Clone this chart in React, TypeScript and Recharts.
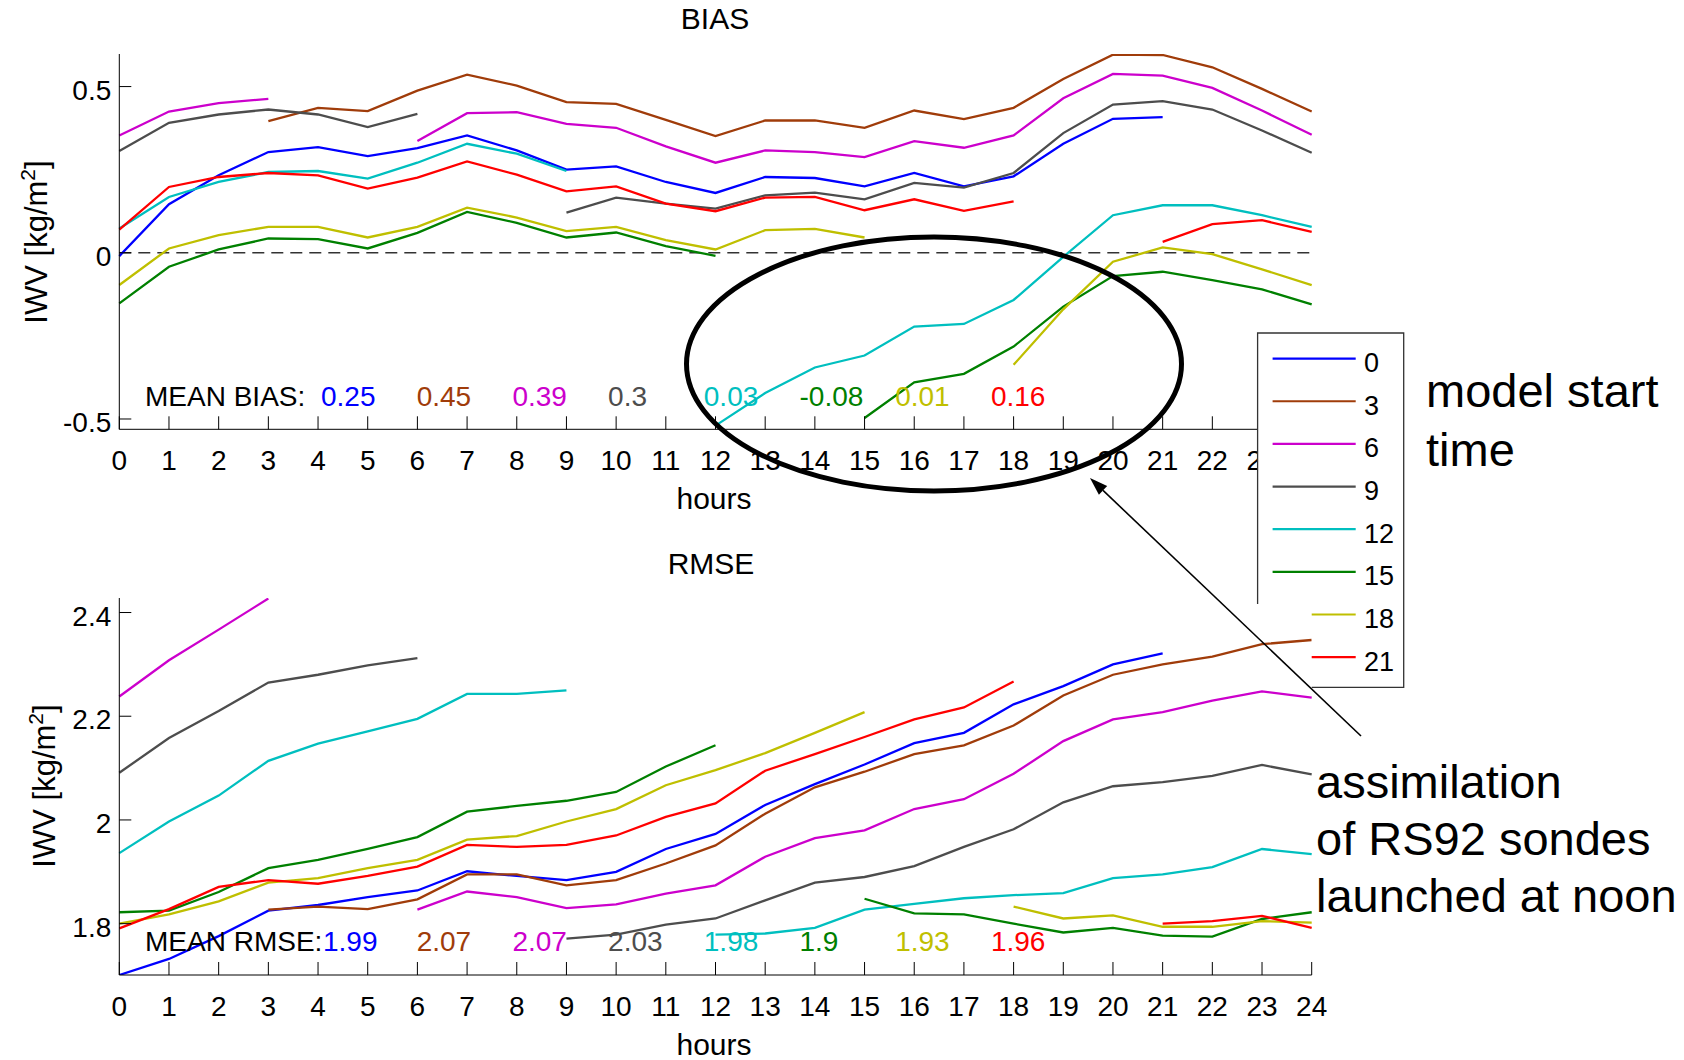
import React from 'react';
import { LineChart, Line, XAxis, YAxis, ReferenceLine } from 'recharts';

// ---------- data ----------
const HOURS = [0, 1, 2, 3, 4, 5, 6, 7, 8, 9, 10, 11, 12, 13, 14, 15, 16, 17, 18, 19, 20, 21, 22, 23, 24];
const START_TIMES = ['0', '3', '6', '9', '12', '15', '18', '21'];
const COLORS = ['#0000FF', '#A03C0A', '#CC00CC', '#4D4D4D', '#00BFBF', '#008000', '#BFBF00', '#FF0000'];

const BIAS_0 = [-0.01, 0.146, 0.233, 0.303, 0.318, 0.291, 0.315, 0.353, 0.308, 0.25, 0.26, 0.213, 0.18, 0.228, 0.225, 0.2, 0.24, 0.2, 0.23, 0.328, 0.403, 0.408, null, null, null];
const BIAS_3 = [null, null, null, 0.396, 0.436, 0.426, 0.488, 0.536, 0.503, 0.453, 0.448, 0.4, 0.351, 0.398, 0.398, 0.376, 0.428, 0.402, 0.436, 0.523, 0.596, 0.595, 0.558, 0.493, 0.425];
const BIAS_6 = [0.353, 0.425, 0.45, 0.463, null, null, 0.336, 0.42, 0.423, 0.388, 0.376, 0.32, 0.271, 0.308, 0.303, 0.288, 0.336, 0.316, 0.353, 0.465, 0.538, 0.533, 0.496, 0.428, 0.355];
const BIAS_9 = [0.306, 0.391, 0.416, 0.431, 0.416, 0.378, 0.418, null, null, 0.121, 0.166, 0.148, 0.133, 0.173, 0.181, 0.161, 0.21, 0.196, 0.24, 0.36, 0.446, 0.456, 0.431, 0.368, 0.301];
const BIAS_12 = [0.073, 0.168, 0.213, 0.243, 0.246, 0.223, 0.271, 0.328, 0.298, 0.246, null, null, -0.52, -0.422, -0.345, -0.309, -0.222, -0.214, -0.142, -0.012, 0.113, 0.143, 0.143, 0.113, 0.078];
const BIAS_15 = [-0.152, -0.042, 0.01, 0.043, 0.041, 0.013, 0.06, 0.123, 0.09, 0.046, 0.061, 0.02, -0.009, null, null, -0.497, -0.39, -0.364, -0.282, -0.162, -0.07, -0.057, -0.082, -0.11, -0.155];
const BIAS_18 = [-0.097, 0.013, 0.053, 0.078, 0.078, 0.046, 0.078, 0.136, 0.106, 0.065, 0.078, 0.038, 0.01, 0.068, 0.072, 0.046, null, null, -0.337, -0.17, -0.027, 0.016, -0.004, -0.05, -0.097];
const BIAS_21 = [0.07, 0.198, 0.228, 0.24, 0.233, 0.193, 0.226, 0.275, 0.235, 0.185, 0.2, 0.148, 0.125, 0.166, 0.168, 0.128, 0.161, 0.126, 0.155, null, null, 0.033, 0.086, 0.098, 0.063];

const RMSE_0 = [1.701, 1.732, 1.776, 1.825, 1.836, 1.851, 1.864, 1.901, 1.892, 1.884, 1.9, 1.944, 1.973, 2.029, 2.069, 2.107, 2.148, 2.168, 2.223, 2.258, 2.3, 2.321, null, null, null];
const RMSE_3 = [null, null, null, 1.827, 1.833, 1.828, 1.847, 1.895, 1.895, 1.874, 1.884, 1.916, 1.951, 2.012, 2.063, 2.093, 2.127, 2.144, 2.182, 2.24, 2.28, 2.3, 2.315, 2.339, 2.347];
const RMSE_6 = [2.238, 2.308, 2.367, 2.427, null, null, 1.827, 1.862, 1.851, 1.83, 1.837, 1.858, 1.874, 1.929, 1.965, 1.98, 2.021, 2.04, 2.089, 2.152, 2.194, 2.208, 2.23, 2.248, 2.236];
const RMSE_9 = [2.091, 2.158, 2.21, 2.265, 2.28, 2.298, 2.312, null, null, 1.771, 1.779, 1.798, 1.81, 1.845, 1.879, 1.89, 1.911, 1.948, 1.982, 2.034, 2.065, 2.073, 2.085, 2.106, 2.088];
const RMSE_12 = [1.936, 1.997, 2.047, 2.114, 2.147, 2.171, 2.195, 2.243, 2.243, 2.25, null, null, 1.779, 1.781, 1.792, 1.827, 1.838, 1.849, 1.855, 1.859, 1.888, 1.895, 1.909, 1.944, 1.934];
const RMSE_15 = [1.822, 1.825, 1.861, 1.907, 1.923, 1.944, 1.967, 2.016, 2.027, 2.037, 2.054, 2.103, 2.144, null, null, 1.848, 1.82, 1.818, 1.8, 1.783, 1.792, 1.777, 1.775, 1.809, 1.822];
const RMSE_18 = [1.8, 1.818, 1.843, 1.879, 1.888, 1.907, 1.923, 1.962, 1.969, 1.997, 2.021, 2.067, 2.096, 2.129, 2.168, 2.208, null, null, 1.833, 1.81, 1.816, 1.794, 1.794, 1.805, 1.802];
const RMSE_21 = [1.791, 1.828, 1.871, 1.884, 1.877, 1.892, 1.91, 1.952, 1.948, 1.952, 1.97, 2.006, 2.032, 2.095, 2.127, 2.16, 2.194, 2.217, 2.267, null, null, 1.8, 1.805, 1.815, 1.792];

const MEAN_BIAS = ['0.25', '0.45', '0.39', '0.3', '0.03', '-0.08', '0.01', '0.16'];
const MEAN_RMSE = ['1.99', '2.07', '2.07', '2.03', '1.98', '1.9', '1.93', '1.96'];
const BIAS_TICKS = [-0.5, 0, 0.5];
const RMSE_TICKS = [1.8, 2, 2.2, 2.4];
const BIAS_DOMAIN = [-0.531, 0.598];
const RMSE_DOMAIN = [1.701, 2.428];

const BIAS_SERIES = [BIAS_0, BIAS_3, BIAS_6, BIAS_9, BIAS_12, BIAS_15, BIAS_18, BIAS_21];
const RMSE_SERIES = [RMSE_0, RMSE_3, RMSE_6, RMSE_9, RMSE_12, RMSE_15, RMSE_18, RMSE_21];

const buildRows = (series: (number | null)[][]) =>
  HOURS.map((h, i) => {
    const row: any = { h };
    START_TIMES.forEach((s, k) => {
      row['s' + s] = series[k][i];
    });
    return row;
  });

const BIAS_ROWS = buildRows(BIAS_SERIES);
const RMSE_ROWS = buildRows(RMSE_SERIES);

// ---------- style ----------
const FONT = "'Liberation Sans', Arial, Helvetica, sans-serif";
const W = 1684;
const CH = 530;

const XTick = (p: any) => {
  const { x, y, payload } = p;
  return (
    <g>
      <line x1={x} x2={x} y1={y} y2={y - 13} stroke="#000" strokeWidth={1} />
      <text x={x} y={y + 41} textAnchor="middle" fontSize={28} fontFamily={FONT} fill="#000">
        {String(payload.value)}
      </text>
    </g>
  );
};

const YTick = (p: any) => {
  const { x, y, payload } = p;
  return (
    <g>
      <line x1={x} x2={x + 12} y1={y} y2={y} stroke="#000" strokeWidth={1} />
      <text x={x - 8} y={y + 13} textAnchor="end" fontSize={28} fontFamily={FONT} fill="#000">
        {String(payload.value)}
      </text>
    </g>
  );
};

const Panel = ({ rows, domain, ticks, margin, zeroLine }: any) => (
  <LineChart width={W} height={CH} data={rows} margin={margin}>
    <XAxis
      dataKey="h"
      type="number"
      domain={[0, 24]}
      ticks={HOURS}
      interval={0}
      tickSize={0}
      tickMargin={0}
      tickLine={false}
      height={30}
      stroke="#000"
      tick={(p: any) => <XTick {...p} />}
    />
    <YAxis
      type="number"
      domain={domain}
      ticks={ticks}
      interval={0}
      allowDataOverflow
      tickSize={0}
      tickMargin={0}
      tickLine={false}
      width={60}
      stroke="#000"
      tick={(p: any) => <YTick {...p} />}
    />
    {zeroLine && (
      <ReferenceLine y={0} stroke="#333" strokeWidth={1.4} strokeDasharray="12 7" />
    )}
    {START_TIMES.map((s, k) => (
      <Line
        key={s}
        dataKey={'s' + s}
        type="linear"
        stroke={COLORS[k]}
        strokeWidth={2.3}
        dot={false}
        activeDot={false}
        connectNulls={false}
        isAnimationActive={false}
      />
    ))}
  </LineChart>
);

const Overlay = () => {
  const legTop = 333;
  const legLeft = 1257.6;
  const legRight = 1403.7;
  const legBottom = 687.3;
  const cutX = 1311.7;
  const cutY = 604;
  const tip = { x: 1090, y: 478 };
  const tail = { x: 1361, y: 736 };
  const dx = tip.x - tail.x;
  const dy = tip.y - tail.y;
  const len = Math.sqrt(dx * dx + dy * dy);
  const ux = dx / len;
  const uy = dy / len;
  const bx = tip.x - ux * 18;
  const by = tip.y - uy * 18;
  const px = -uy;
  const py = ux;
  const head = `${tip.x},${tip.y} ${bx + px * 6},${by + py * 6} ${bx - px * 6},${by - py * 6}`;
  return (
    <svg width={W} height={1060} style={{ position: 'absolute', left: 0, top: 0, pointerEvents: 'none' }}>
      {/* titles */}
      <text x={715} y={29} textAnchor="middle" fontSize={30} fontFamily={FONT}>BIAS</text>
      <text x={711} y={574} textAnchor="middle" fontSize={30} fontFamily={FONT}>RMSE</text>
      <text x={714} y={509} textAnchor="middle" fontSize={30} fontFamily={FONT}>hours</text>
      <text x={714} y={1055} textAnchor="middle" fontSize={30} fontFamily={FONT}>hours</text>
      <text transform="translate(47,242) rotate(-90)" textAnchor="middle" fontSize={31} fontFamily={FONT}>
        IWV [kg/m<tspan dy={-12} fontSize={21}>2</tspan><tspan dy={12}>]</tspan>
      </text>
      <text transform="translate(55,786) rotate(-90)" textAnchor="middle" fontSize={31} fontFamily={FONT}>
        IWV [kg/m<tspan dy={-12} fontSize={21}>2</tspan><tspan dy={12}>]</tspan>
      </text>

      {/* mean values */}
      <text x={145} y={406} fontSize={28} fontFamily={FONT}>MEAN BIAS:</text>
      {MEAN_BIAS.map((v, i) => (
        <text key={'mb' + i} x={321 + i * 95.7} y={406} fontSize={28} fontFamily={FONT} fill={COLORS[i]}>{v}</text>
      ))}
      <text x={145} y={951} fontSize={28} fontFamily={FONT}>MEAN RMSE:</text>
      {MEAN_RMSE.map((v, i) => (
        <text key={'mr' + i} x={(i === 0 ? 323 : 321) + i * 95.7} y={951} fontSize={28} fontFamily={FONT} fill={COLORS[i]}>{v}</text>
      ))}

      {/* legend (bottom-left corner hidden by the lower axes) */}
      <polygon
        points={`${legLeft},${legTop} ${legRight},${legTop} ${legRight},${legBottom} ${cutX},${legBottom} ${cutX},${cutY} ${legLeft},${cutY}`}
        fill="#fff"
      />
      <path
        d={`M${legLeft},${cutY} L${legLeft},${legTop} L${legRight},${legTop} L${legRight},${legBottom} L${cutX},${legBottom}`}
        fill="none"
        stroke="#333"
        strokeWidth={1.3}
      />
      {START_TIMES.map((s, i) => {
        const ly = 358.6 + i * 42.65;
        const x1 = ly > cutY ? cutX : 1272.6;
        return (
          <g key={'lg' + s}>
            <line x1={x1} x2={1355.7} y1={ly} y2={ly} stroke={COLORS[i]} strokeWidth={2.2} />
            <text x={1364} y={ly + 13.5} fontSize={27} fontFamily={FONT}>{s}</text>
          </g>
        );
      })}
      <text x={1426} y={407} fontSize={47} fontFamily={FONT}>model start</text>
      <text x={1426} y={466} fontSize={47} fontFamily={FONT}>time</text>

      {/* annotation */}
      <ellipse cx={934} cy={364} rx={247.5} ry={127} fill="none" stroke="#000" strokeWidth={5} />
      <line x1={tail.x} y1={tail.y} x2={bx} y2={by} stroke="#000" strokeWidth={1.6} />
      <polygon points={head} fill="#000" />
      <text x={1316} y={798} fontSize={47} fontFamily={FONT}>assimilation</text>
      <text x={1316} y={855} fontSize={47} fontFamily={FONT}>of RS92 sondes</text>
      <text x={1316} y={912} fontSize={47} fontFamily={FONT}>launched at noon</text>
    </svg>
  );
};

export default function App() {
  return (
    <div style={{ position: 'absolute', left: 0, top: 0, width: W, height: 1060, background: '#fff', overflow: 'hidden' }}>
      <div style={{ position: 'absolute', left: 0, top: 0 }}>
        <Panel
          rows={BIAS_ROWS}
          domain={BIAS_DOMAIN}
          ticks={BIAS_TICKS}
          margin={{ top: 54, right: 372.3, left: 59.3, bottom: 70.7 }}
          zeroLine
        />
      </div>
      <div style={{ position: 'absolute', left: 0, top: CH }}>
        <Panel
          rows={RMSE_ROWS}
          domain={RMSE_DOMAIN}
          ticks={RMSE_TICKS}
          margin={{ top: 68, right: 372.3, left: 59.3, bottom: 55 }}
          zeroLine={false}
        />
      </div>
      <Overlay />
    </div>
  );
}
